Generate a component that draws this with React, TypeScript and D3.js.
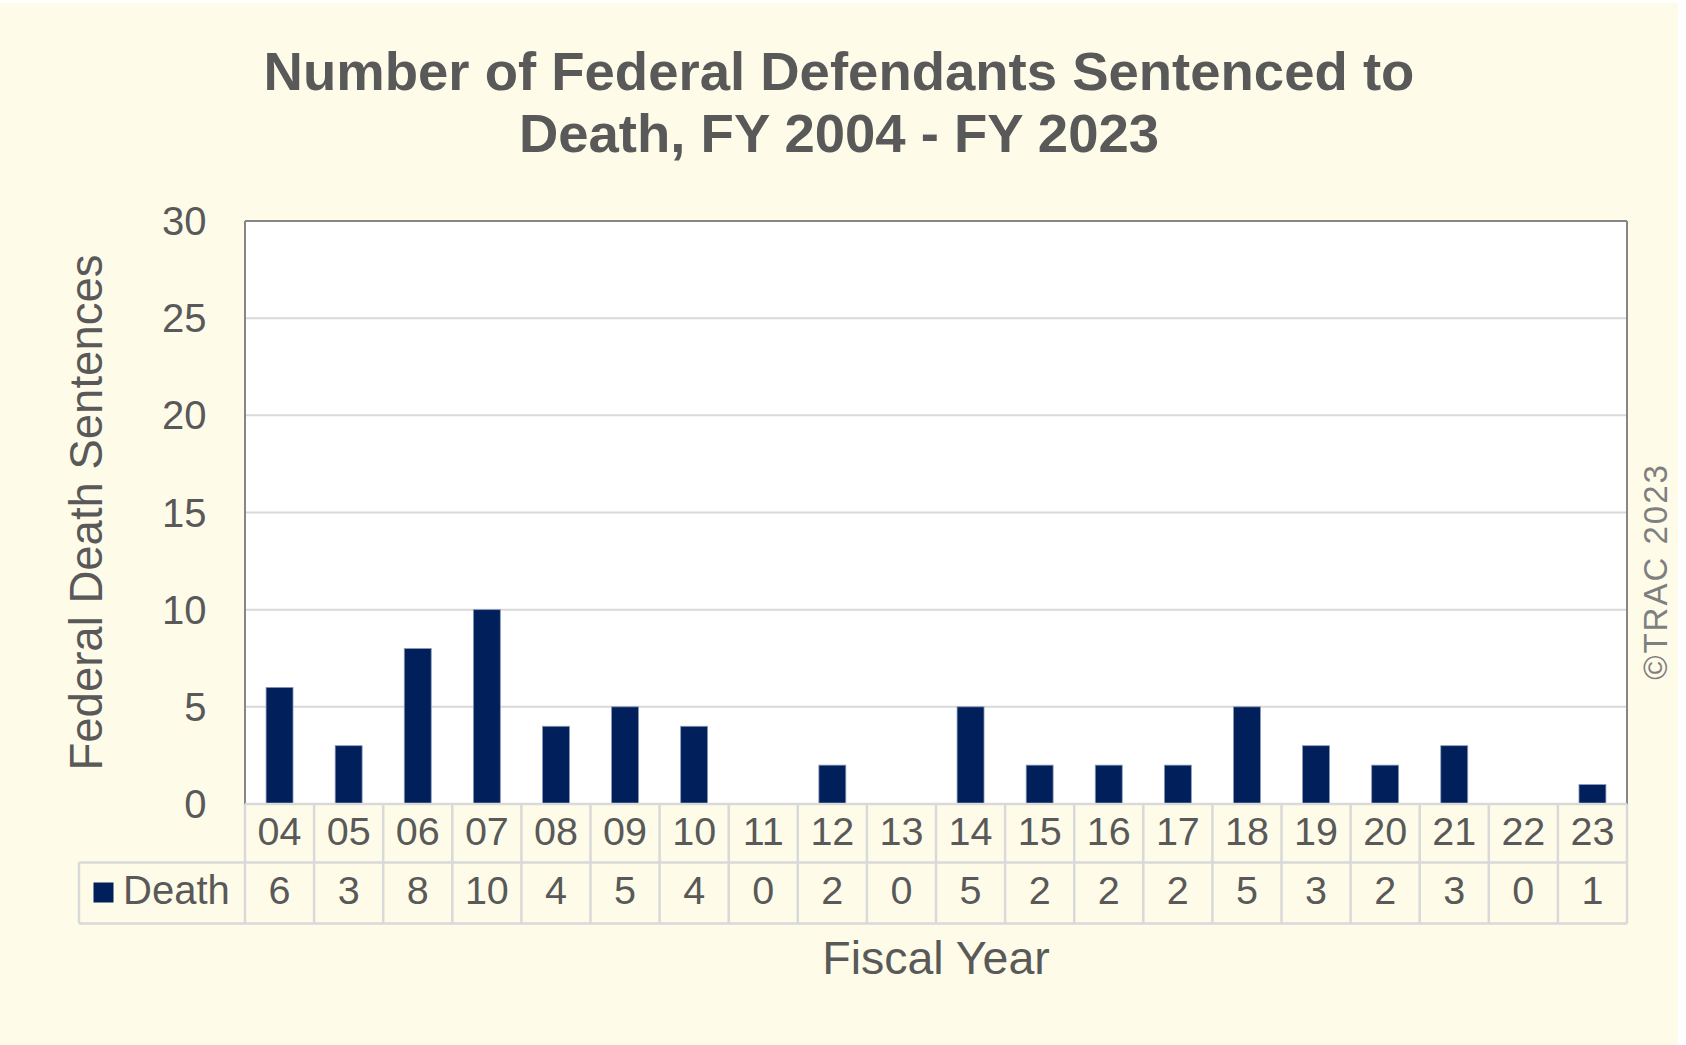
import React from "react";
import * as d3 from "d3";

const years = ["04","05","06","07","08","09","10","11","12","13","14","15","16","17","18","19","20","21","22","23"];
const deaths = [6,3,8,10,4,5,4,0,2,0,5,2,2,2,5,3,2,3,0,1];
const yTicks = [0,5,10,15,20,25,30];
const seriesName = "Death";
const titleLines = ["Number of Federal Defendants Sentenced to", "Death, FY 2004 - FY 2023"];
const yTitle = "Federal Death Sentences";
const xTitle = "Fiscal Year";
const credit = "©TRAC 2023";

const W = 1686, H = 1045;
const plotL = 245, plotR = 1627, plotT = 221, plotB = 804;
const row1B = 862.5, row2B = 923.5, legendL = 79;
const FONT = "'Liberation Sans', Arial, sans-serif";
const TXT = "#595959";
const GRID = "#d9d9d9";
const BAR = "#001f5b";

export default function App() {
  const x = d3.scaleBand<string>().domain(years).range([plotL, plotR]).padding(0);
  const y = d3.scaleLinear().domain([0, 30]).range([plotB, plotT]);
  const bw = x.bandwidth();
  const barW = bw * 0.39;
  const boundaries = d3.range(years.length + 1).map(i => plotL + i * bw);

  return (
    <svg width={W} height={H} style={{ position: "absolute", left: 0, top: 0, display: "block" }} fontFamily={FONT}>
      <rect x={0} y={0} width={W} height={H} fill="#ffffff" />
      <rect x={0} y={3} width={1678} height={H - 3} fill="#fefce9" />

      {titleLines.map((t, i) => (
        <text key={t} x={839} y={89.5 + i * 62} textAnchor="middle" fontSize={54.5} fontWeight="bold" fill={TXT}>{t}</text>
      ))}

      <rect x={plotL} y={plotT} width={plotR - plotL} height={plotB - plotT} fill="#ffffff" />
      {yTicks.filter(v => v > 0 && v < 30).map(v => (
        <line key={v} x1={plotL} x2={plotR} y1={y(v)} y2={y(v)} stroke={GRID} strokeWidth={2} />
      ))}

      {deaths.map((v, i) => v > 0 && (
        <rect key={years[i]} x={x(years[i])! + bw / 2 - barW / 2} y={y(v)} width={barW} height={y(0) - y(v)}
          fill={BAR} stroke="#8a9ab8" strokeWidth={0.8} />
      ))}

      <line x1={plotL} x2={plotR} y1={plotT} y2={plotT} stroke="#868686" strokeWidth={2} />
      <line x1={plotL} x2={plotL} y1={plotT} y2={plotB} stroke="#868686" strokeWidth={2} />
      <line x1={plotR} x2={plotR} y1={plotT} y2={plotB} stroke="#868686" strokeWidth={2} />

      {yTicks.map(v => (
        <text key={v} x={206.5} y={y(v) + 14} textAnchor="end" fontSize={40} fill={TXT}>{v}</text>
      ))}

      {/* data table */}
      <line x1={plotL} x2={plotR} y1={plotB} y2={plotB} stroke={GRID} strokeWidth={2.5} />
      <line x1={legendL} x2={plotR} y1={row1B} y2={row1B} stroke={GRID} strokeWidth={2.5} />
      <line x1={legendL} x2={plotR} y1={row2B} y2={row2B} stroke={GRID} strokeWidth={2.5} />
      {boundaries.map((bx, i) => (
        <line key={i} x1={bx} x2={bx} y1={plotB} y2={row2B} stroke={GRID} strokeWidth={2.5} />
      ))}
      <line x1={legendL} x2={legendL} y1={row1B} y2={row2B} stroke={GRID} strokeWidth={2.5} />

      {years.map(yr => (
        <text key={yr} x={x(yr)! + bw / 2} y={845} textAnchor="middle" fontSize={39.5} fill={TXT}>{yr}</text>
      ))}
      {deaths.map((v, i) => (
        <text key={years[i]} x={x(years[i])! + bw / 2} y={903.5} textAnchor="middle" fontSize={39.5} fill={TXT}>{v}</text>
      ))}
      <rect x={93.5} y={882.5} width={20} height={20} fill={BAR} />
      <text x={123} y={903.5} fontSize={40} fill={TXT}>{seriesName}</text>

      <text x={(plotL + plotR) / 2} y={974} textAnchor="middle" fontSize={46.5} fill={TXT}>{xTitle}</text>
      <text transform={`translate(101.5, ${(plotT + plotB) / 2}) rotate(-90)`} textAnchor="middle" fontSize={45.5} fill={TXT}>{yTitle}</text>
      <text transform={`translate(1666.5, 571.5) rotate(-90)`} textAnchor="middle" fontSize={33} letterSpacing={2} fill="#7f7f7f">{credit}</text>
    </svg>
  );
}
